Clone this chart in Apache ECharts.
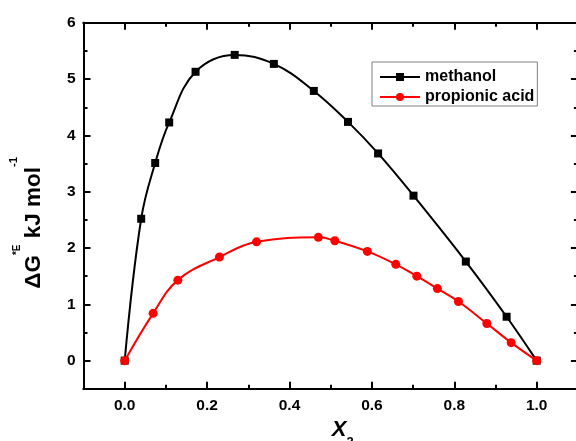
<!DOCTYPE html>
<html><head><meta charset="utf-8">
<script src="https://cdn.jsdelivr.net/npm/echarts@6/dist/echarts.min.js"></script>
<style>html,body{margin:0;padding:0;background:#fff}#c{width:576px;height:441px}</style>
</head><body><div id="c"></div>
<script>
const methanolX = [0, 0.04, 0.074, 0.108, 0.172, 0.267, 0.362, 0.459, 0.542, 0.615, 0.701, 0.828, 0.927, 1.0];
const methanolY = [0, 2.52, 3.51, 4.23, 5.13, 5.43, 5.27, 4.79, 4.24, 3.68, 2.93, 1.76, 0.78, 0];
const propX = [0, 0.069, 0.129, 0.23, 0.32, 0.47, 0.51, 0.589, 0.658, 0.709, 0.759, 0.81, 0.879, 0.938, 1.0];
const propY = [0, 0.84, 1.43, 1.84, 2.11, 2.19, 2.13, 1.94, 1.71, 1.50, 1.28, 1.05, 0.66, 0.32, 0];
const xMajorTicks = [0, 0.2, 0.4, 0.6, 0.8, 1.0];
const xMinorTicks = [-0.1, 0.1, 0.3, 0.5, 0.7, 0.9, 1.1];
const yMajorTicks = [0, 1, 2, 3, 4, 5, 6];
const yMinorTicks = [-0.5, 0.5, 1.5, 2.5, 3.5, 4.5, 5.5];
const seriesNames = ['methanol', 'propionic acid'];

const FONT = '"Liberation Sans", Arial, sans-serif';
const X_MIN = -0.1, X_MAX = 1.1, Y_MIN = -0.5, Y_MAX = 6;
const lineStyleAxis = { color: '#000', width: 2 };

function xAx(pos, ticks, len, labels, extra) {
  return Object.assign({
    type: 'value', gridIndex: 0, position: pos, min: X_MIN, max: X_MAX,
    axisLine: { show: true, onZero: false, lineStyle: lineStyleAxis },
    axisTick: { show: true, inside: true, length: len, customValues: ticks, lineStyle: { color: '#000', width: 2 } },
    axisLabel: labels ? {
      show: true, customValues: ticks, formatter: v => v.toFixed(1), margin: 9,
      fontFamily: FONT, fontWeight: 'bold', fontSize: 15.5, color: '#000'
    } : { show: false },
    splitLine: { show: false }
  }, extra || {});
}
function yAx(pos, ticks, len, labels, extra) {
  return Object.assign({
    type: 'value', gridIndex: 0, position: pos, min: Y_MIN, max: Y_MAX,
    axisLine: { show: true, onZero: false, lineStyle: lineStyleAxis },
    axisTick: { show: true, inside: true, length: len, customValues: ticks, lineStyle: { color: '#000', width: 2 } },
    axisLabel: labels ? {
      show: true, customValues: ticks, formatter: v => String(v), margin: 8,
      fontFamily: FONT, fontWeight: 'bold', fontSize: 15.5, color: '#000'
    } : { show: false },
    splitLine: { show: false }
  }, extra || {});
}

const chart = echarts.init(document.getElementById('c'), null, { renderer: 'canvas' });
chart.setOption({
  animation: false,
  backgroundColor: '#fff',
  grid: { left: 83.5, top: 22.8, width: 494.4, height: 366, outerBoundsMode: 'none', containLabel: false },
  legend: {
    left: 372, top: 62, orient: 'vertical',
    data: seriesNames,
    itemWidth: 40, itemHeight: 10, itemGap: 4,
    padding: [7, 3, 1, 7],
    borderColor: '#808080', borderWidth: 1, backgroundColor: '#fff',
    textStyle: { fontFamily: FONT, fontWeight: 'bold', fontSize: 16, color: '#000', lineHeight: 14 }
  },
  xAxis: [
    xAx('bottom', xMajorTicks, 7, true, {
      name: '{x|X}{s|2}', nameLocation: 'middle', nameGap: 11, nameMoveOverlap: false,
      nameTextStyle: {
        padding: [0, 0, 0, 24],
        rich: {
          x: { fontFamily: FONT, fontWeight: 'bold', fontStyle: 'italic', fontSize: 22, color: '#000', lineHeight: 60 },
          s: { fontFamily: FONT, fontWeight: 'bold', fontSize: 13, color: '#000', lineHeight: 60, padding: [26, 0, 0, 0] }
        }
      }
    }),
    xAx('bottom', xMinorTicks, 4, false),
    xAx('top', xMajorTicks, 7, false),
    xAx('top', xMinorTicks, 4, false)
  ],
  yAxis: [
    yAx('left', yMajorTicks, 7, true, {
      name: '{a|ΔG}{s|*E}{a| kJ mol}{t|-1}', nameLocation: 'middle', nameGap: 19.3, nameRotate: 90, nameMoveOverlap: false,
      nameTextStyle: {
        padding: [0, 34, 0, 0],
        rich: {
          a: { fontFamily: FONT, fontWeight: 'bold', fontSize: 22.5, color: '#000', lineHeight: 60 },
          s: { fontFamily: FONT, fontWeight: 'bold', fontSize: 10, color: '#000', lineHeight: 60, padding: [0, 0, 33, 0] },
          t: { fontFamily: FONT, fontWeight: 'bold', fontSize: 11.5, color: '#000', lineHeight: 60, padding: [0, 0, 40, 0] }
        }
      }
    }),
    yAx('left', yMinorTicks, 4, false),
    yAx('right', yMajorTicks, 7, false),
    yAx('right', yMinorTicks, 4, false)
  ],
  series: [
    {
      name: seriesNames[0], type: 'line', xAxisIndex: 0, yAxisIndex: 0,
      data: methanolX.map((x, i) => [x, methanolY[i]]),
      smooth: 0.4, symbol: 'rect', symbolSize: 8,
      lineStyle: { color: '#000', width: 2 }, itemStyle: { color: '#000' }, z: 3
    },
    {
      name: seriesNames[1], type: 'line', xAxisIndex: 0, yAxisIndex: 0,
      data: propX.map((x, i) => [x, propY[i]]),
      smooth: 0.4, symbol: 'circle', symbolSize: 9,
      lineStyle: { color: '#ff0000', width: 2 }, itemStyle: { color: '#ff0000' }, z: 4
    }
  ]
});
</script>
</body></html>
